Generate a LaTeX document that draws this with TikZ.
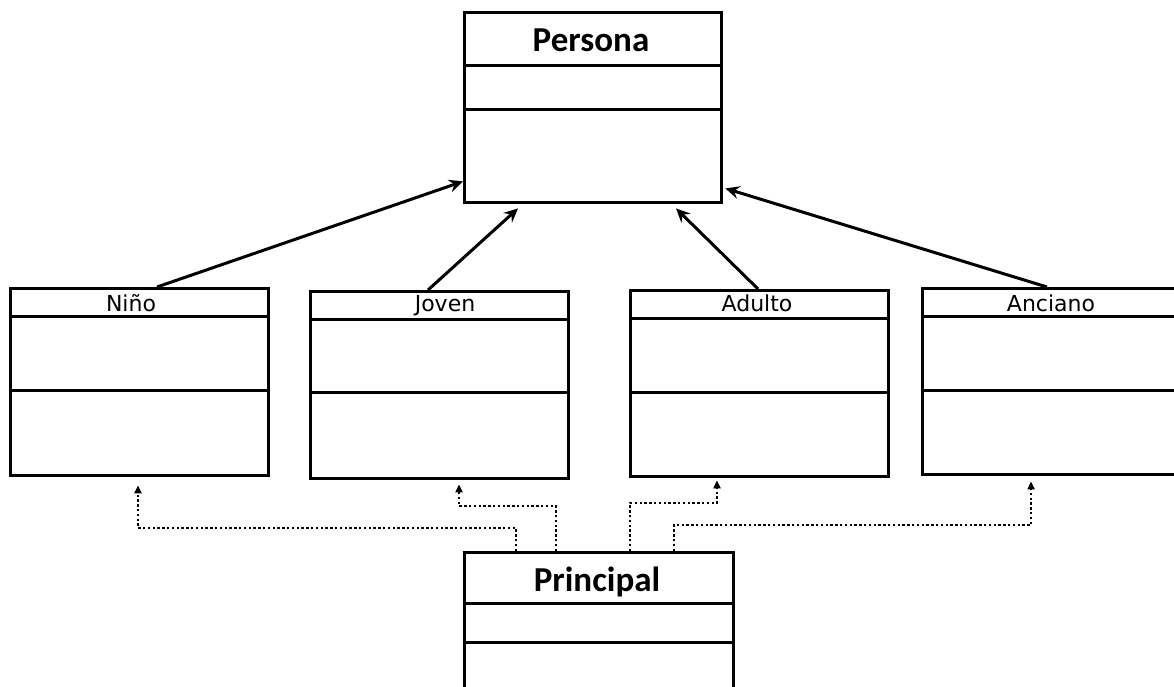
\documentclass[tikz,border=0pt]{standalone}
\usepackage{fontspec}
\usetikzlibrary{arrows.meta}
\newfontfamily\titlefont{Carlito}
\newfontfamily\namefont{DejaVu Sans}

\tikzset{
  classbox/.style={draw=black, line width=3.4pt, fill=white, inner sep=0pt, anchor=north west},
  compline/.style={line width=3pt},
  classtitle/.style={font=\titlefont\bfseries\fontsize{35}{40}\selectfont, anchor=base, inner sep=0pt},
  classname/.style={font=\namefont\fontsize{22}{26}\selectfont, anchor=base, inner sep=0pt},
  inherit/.style={line width=3pt, -{Stealth[length=14pt, width=13pt, inset=5pt]}},
  uses/.style={line width=2.7pt, dash pattern=on 2.4pt off 2.4pt, -{Triangle[length=8pt, width=7pt]}}
}

\begin{document}
\begin{tikzpicture}[x=1pt, y=-1pt]
  \useasboundingbox (0,0) rectangle (1174,686);
  \fill[white] (0,0) rectangle (1174,686);
  \clip (0,0) rectangle (1174,686);

  % classes
  \node[classbox, minimum width=257pt, minimum height=190pt] (persona) at (463,11) {};
  \node[classbox, minimum width=258pt, minimum height=187pt] (nino) at (9,287) {};
  \node[classbox, minimum width=258pt, minimum height=187pt] (joven) at (309,290) {};
  \node[classbox, minimum width=258pt, minimum height=186pt] (adulto) at (629,289) {};
  \node[classbox, minimum width=264pt, minimum height=186pt] (anciano) at (921,287) {};
  \node[classbox, minimum width=269pt, minimum height=160pt] (principal) at (463,551) {};

  % compartments
  \draw[compline] ([yshift=-54pt]persona.north west) -- ([yshift=-54pt]persona.north east);
  \draw[compline] ([yshift=-98pt]persona.north west) -- ([yshift=-98pt]persona.north east);
  \draw[compline] ([yshift=-29pt]nino.north west) -- ([yshift=-29pt]nino.north east);
  \draw[compline] ([yshift=-103pt]nino.north west) -- ([yshift=-103pt]nino.north east);
  \draw[compline] ([yshift=-29pt]joven.north west) -- ([yshift=-29pt]joven.north east);
  \draw[compline] ([yshift=-102pt]joven.north west) -- ([yshift=-102pt]joven.north east);
  \draw[compline] ([yshift=-29pt]adulto.north west) -- ([yshift=-29pt]adulto.north east);
  \draw[compline] ([yshift=-103pt]adulto.north west) -- ([yshift=-103pt]adulto.north east);
  \draw[compline] ([yshift=-29pt]anciano.north west) -- ([yshift=-29pt]anciano.north east);
  \draw[compline] ([yshift=-103pt]anciano.north west) -- ([yshift=-103pt]anciano.north east);
  \draw[compline] ([yshift=-52pt]principal.north west) -- ([yshift=-52pt]principal.north east);
  \draw[compline] ([yshift=-91pt]principal.north west) -- ([yshift=-91pt]principal.north east);

  % class names
  \node[classtitle] (persona-name) at (591,51) {Persona};
  \node[classtitle] (principal-name) at (597,591) {Principal};
  \node[classname] (nino-name) at (131,311) {Niño};
  \node[classname] (joven-name) at (445,311) {Joven};
  \node[classname] (adulto-name) at (757,311) {Adulto};
  \node[classname] (anciano-name) at (1051,311) {Anciano};

  % generalization
  \draw[inherit] ([xshift=148pt]nino.north west) -- ([yshift=23pt]persona.south west);
  \draw[inherit] ([xshift=119pt]joven.north west) -- ([xshift=55pt,yshift=-4pt]persona.south west);
  \draw[inherit] ([xshift=129pt]adulto.north west) -- ([xshift=213pt,yshift=-4pt]persona.south west);
  \draw[inherit] ([xshift=126pt]anciano.north west) -- ([xshift=2pt,yshift=16pt]persona.south east);

  % dependencies
  \draw[uses] ([xshift=53pt]principal.north west) -- ++(0,-23) -| ([xshift=129pt,yshift=-8pt]nino.south west);
  \draw[uses] ([xshift=93pt]principal.north west) -- ++(0,-45) -| ([xshift=150pt,yshift=-4pt]joven.south west);
  \draw[uses] ([xshift=167pt]principal.north west) -- ++(0,-48) -| ([xshift=88pt,yshift=-2pt]adulto.south west);
  \draw[uses] ([xshift=211pt]principal.north west) -- ++(0,-26) -| ([xshift=110pt,yshift=-5pt]anciano.south west);
\end{tikzpicture}
\end{document}
